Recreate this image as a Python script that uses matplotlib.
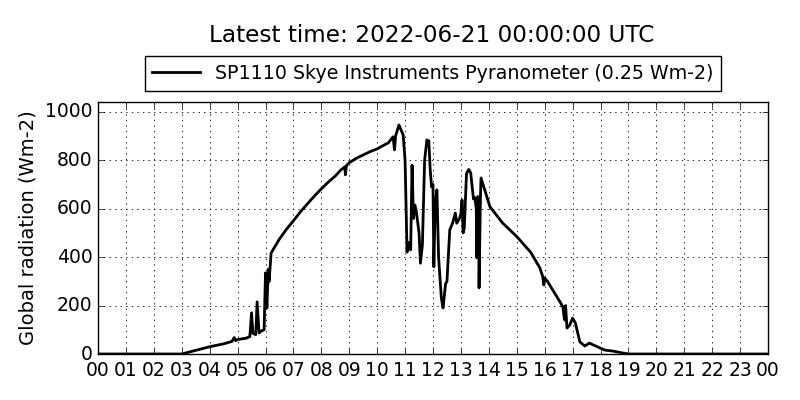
import matplotlib
matplotlib.use("Agg")
import matplotlib.pyplot as plt
import matplotlib.dates as mdates
import pandas as pd

# =========================
# DATA
# =========================
DAY = "2022-06-20"
hours = [0, 3.0, 3.5, 4.0, 4.5, 4.8, 4.88, 4.93, 5.0, 5.3, 5.44, 5.5, 5.55,
         5.65, 5.7, 5.77, 5.85, 5.95, 6.0, 6.05, 6.1, 6.13, 6.2, 6.5, 6.75,
         7.0, 7.25, 7.5, 7.75, 8.0, 8.25, 8.5, 8.7, 8.84, 8.86, 8.9, 9.0,
         9.25, 9.5, 9.75, 10.0, 10.2, 10.4, 10.57, 10.62,
         10.66, 10.78, 10.93, 11.0, 11.07, 11.12, 11.2, 11.25, 11.3, 11.35,
         11.4, 11.5, 11.55, 11.62, 11.7, 11.78, 11.85, 11.9, 11.95, 12.0,
         12.03, 12.08, 12.14, 12.2, 12.3, 12.36, 12.45, 12.5, 12.6, 12.7,
         12.8, 12.85, 12.95, 13.0, 13.04, 13.08, 13.12, 13.2, 13.28, 13.35,
         13.45, 13.5, 13.55, 13.57, 13.6, 13.63, 13.65, 13.7, 13.72, 14.04,
         14.5, 15.0, 15.5, 15.83, 15.93, 15.97, 16.0, 16.1, 16.55, 16.65,
         16.7, 16.72, 16.75, 16.8, 16.9, 17.0, 17.1, 17.26, 17.44, 17.6,
         17.98, 18.16, 18.45, 18.8, 19.0, 24.0]
radiation = [0, 0, 15, 30, 42, 52, 68, 55, 60, 65, 72, 170, 85,
             80, 215, 87, 95, 100, 335, 190, 350, 300, 417, 475, 515,
             550, 587, 620, 652, 682, 710, 735, 760, 773, 740, 778, 790,
             808, 822, 836, 847, 860, 872, 897, 843,
             900, 946, 905, 800, 421, 460, 430, 780, 560, 615,
             590, 500, 375, 450, 800, 884, 880, 760, 690, 700,
             360, 620, 678, 400, 230, 190, 290, 300, 512, 540,
             582, 540, 560, 580, 636, 500, 520, 745, 762, 748,
             640, 646, 600, 397, 650, 640, 273, 650, 727, 608,
             540, 485, 420, 355, 320, 285, 314, 300, 215, 195,
             150, 140, 200, 107, 120, 148, 128, 50, 33, 45,
             25, 16, 12, 4, 0, 0]
label = "SP1110 Skye Instruments Pyranometer (0.25 Wm-2)"
title = "Latest time: 2022-06-21 00:00:00 UTC"

times = pd.to_datetime(DAY) + pd.to_timedelta(hours, unit="h")

# =========================
# PLOT
# =========================
plt.style.use("classic")
fig = plt.figure(figsize=(8, 4), dpi=100, facecolor="white")
ax = fig.add_axes([0.1225, 0.115, 0.8375, 0.63])

ax.plot(times, radiation, color="black", linewidth=2, label=label)

ax.set_xlim(pd.to_datetime(DAY), pd.to_datetime(DAY) + pd.Timedelta(hours=24))
ax.set_ylim(0, 1.1 * max(radiation))
ax.xaxis.set_major_locator(mdates.HourLocator(interval=1))
ax.xaxis.set_major_formatter(mdates.DateFormatter("%H"))
ax.set_yticks([0, 200, 400, 600, 800, 1000])
ax.tick_params(labelsize=13.5)
ax.tick_params(axis="x", pad=5)
ax.grid(True, color="black", linestyle=":", linewidth=0.6)
ax.set_ylabel("Global radiation (Wm-2)", fontsize=14)

ax.legend(loc="lower center", bbox_to_anchor=(0.5, 1.015), fontsize=13.7,
          frameon=True, fancybox=False, borderaxespad=0.4, handlelength=2.5,
          numpoints=1)
fig.text(0.54, 0.912, title, ha="center", va="center", fontsize=16.7)

fig.savefig("out.png", dpi=100, facecolor="white")
